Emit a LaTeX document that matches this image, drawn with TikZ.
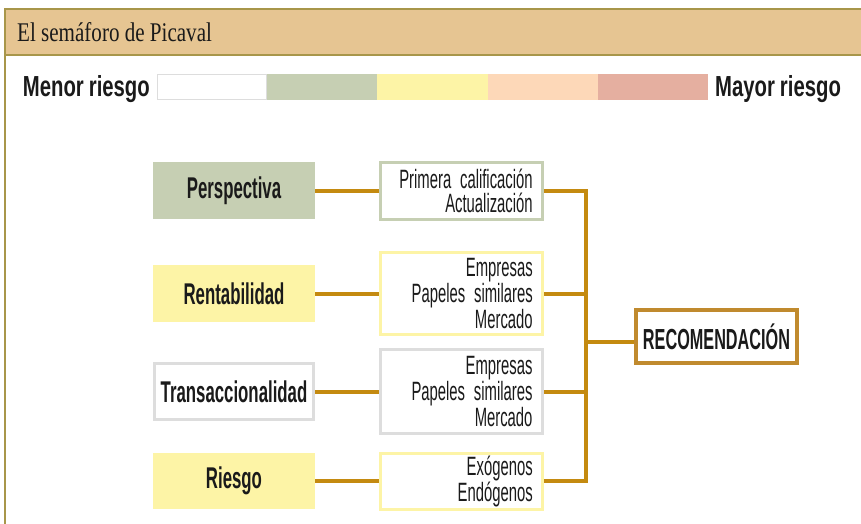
\documentclass[tikz,border=0pt]{standalone}
\usepackage{fontspec}
\setmainfont{Liberation Serif}
\newfontfamily\titlefont[FakeStretch=0.78]{Liberation Serif}
\newfontfamily\condfont[FakeStretch=0.56]{Liberation Sans}
\newfontfamily\legendfont[FakeStretch=0.7]{Liberation Sans}
\newcommand\detailtext{\condfont\fontsize{26.5}{24}\selectfont\spaceskip=3pt\relax}
\newcommand\legendtext{\legendfont\bfseries\fontsize{29}{30}\selectfont\spaceskip=5pt\relax}
\usepackage{xcolor}
\usetikzlibrary{positioning}
\definecolor{headfill}{HTML}{E6C592}
\definecolor{headline}{HTML}{A8964A}
\definecolor{riskgreen}{HTML}{C6CFB3}
\definecolor{riskyellow}{HTML}{FDF4A6}
\definecolor{riskpeach}{HTML}{FDD8B8}
\definecolor{riskred}{HTML}{E5AFA0}
\definecolor{boxgray}{HTML}{DDDDDD}
\definecolor{linkgold}{HTML}{C48A10}
\definecolor{recogold}{HTML}{C08A2E}
\definecolor{inktext}{HTML}{1A1A1A}

\begin{document}
\begin{tikzpicture}[x=1pt, y=-1pt, node distance=64pt, every node/.style={text=inktext}]
    \tikzstyle{factor}=[inner sep=0pt, minimum width=162, minimum height=57, font=\condfont\bfseries\fontsize{30}{30}\selectfont]
    \tikzstyle{detail}=[line width=3pt, fill=white, text width=142, inner xsep=10pt, inner ysep=0pt, align=right, font=\detailtext]
    \tikzstyle{reco}=[draw=recogold, line width=4pt, fill=white, inner sep=0pt, minimum width=161, minimum height=53, font=\condfont\bfseries\fontsize{29}{30}\selectfont]
    \tikzstyle{link}=[draw=linkgold, line width=4pt]
    \tikzstyle{legend}=[font=\legendtext]
    \useasboundingbox (0,0) rectangle (861,524);
    \clip (0,0) rectangle (861,524);
    \fill[headfill] (5,9) rectangle (870,55);
    \draw[headline, line width=1.5pt] (870,9) -- (5,9) -- (5,530);
    \draw[headline, line width=1.5pt] (5,55) -- (870,55);
    \node[anchor=base west, inner xsep=0pt, font=\titlefont\fontsize{27}{30}\selectfont] (title) at (17,42) {El semáforo de Picaval};
    \foreach \c [count=\i from 0] in {white,riskgreen,riskyellow,riskpeach,riskred}
      \fill[\c] (157+110.2*\i,74) rectangle ++(110.2,26);
    \draw[boxgray, line width=1pt] (157.5,74.5) rectangle (266,99.5);
    \node[legend, anchor=east, inner xsep=0pt] (menor) at (150,89) {Menor riesgo};
    \node[legend, anchor=west, inner xsep=0pt] (mayor) at (715,89) {Mayor riesgo};
    \node[factor, fill=riskgreen] (persp) at (234,190.5) {Perspectiva};
    \node[factor, fill=riskyellow] (rent) at (234,293.5) {Rentabilidad};
    \node[factor, draw=boxgray, line width=3pt, minimum width=159, minimum height=56] (trans) at (234,391.5) {Transaccionalidad};
    \node[factor, fill=riskyellow, minimum height=56] (riesgo) at (234,481) {Riesgo};
    \node[detail, draw=riskgreen, minimum height=57, right=of persp] (m1) {Primera calificación\\Actualización};
    \node[detail, draw=riskyellow, minimum height=82, right=of rent] (m2) {Empresas\\Papeles similares\\Mercado};
    \node[detail, draw=boxgray, minimum height=84, right=of trans] (m3) {Empresas\\Papeles similares\\Mercado};
    \node[detail, draw=riskyellow, minimum height=56, right=of riesgo] (m4) {Exógenos\\Endógenos};
    \node[reco] (reco) at (716.5,336.5) {RECOMENDACIÓN};
    \coordinate (bus) at (586,342);
    \draw[link] (persp) -- (m1);
    \draw[link] (rent) -- (m2);
    \draw[link] (trans) -- (m3);
    \draw[link] (riesgo) -- (m4);
    \draw[link] (m1.east) -| (bus);
    \draw[link] (m4.east) -| (bus);
    \draw[link] (m2.east) -- (m2.east -| bus);
    \draw[link] (m3.east) -- (m3.east -| bus);
    \draw[link] (bus) -- (bus -| reco.west);
\end{tikzpicture}
\end{document}
